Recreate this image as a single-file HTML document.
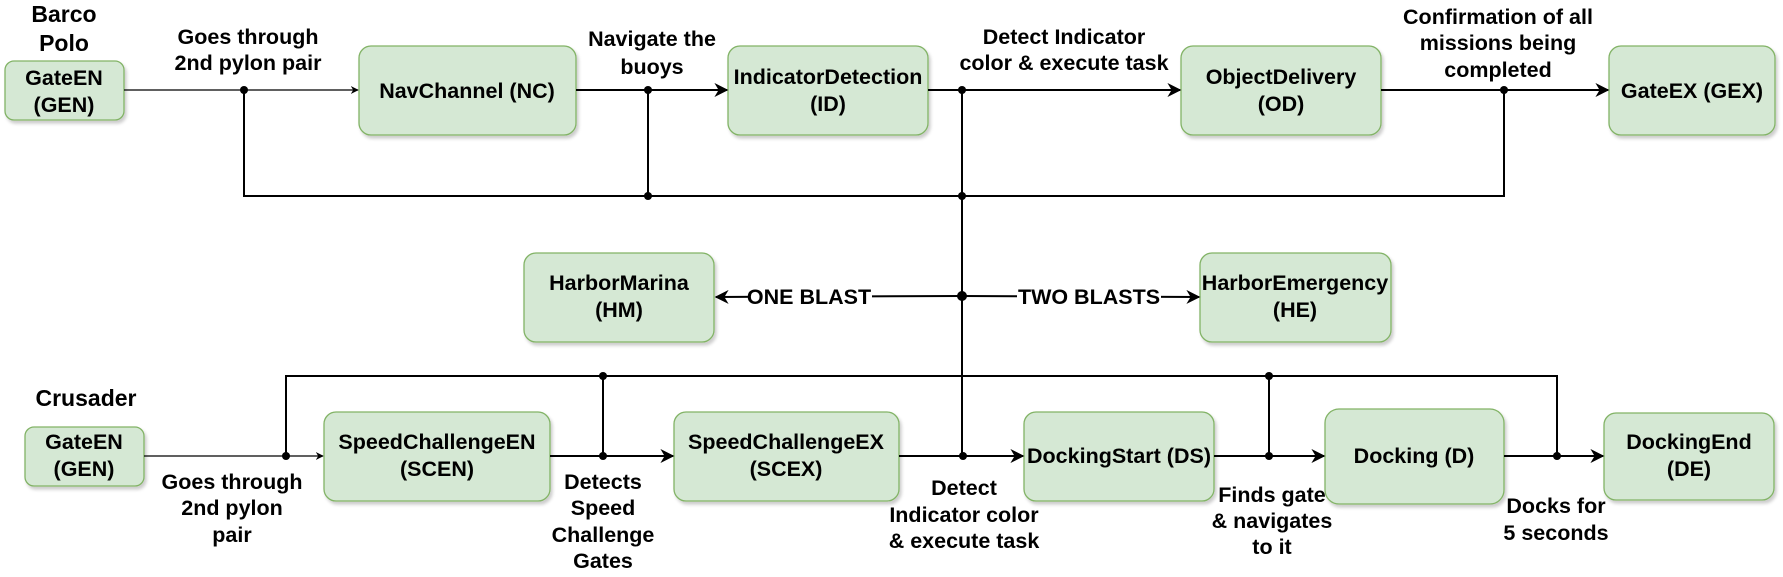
<!DOCTYPE html>
<html><head><meta charset="utf-8"><style>
html,body{margin:0;padding:0;background:#fff;}
svg{display:block;}
text{font-family:"Liberation Sans",Arial,sans-serif;font-weight:bold;font-size:21.5px;fill:#000;text-anchor:middle;dominant-baseline:central;}
.big{font-size:23px;}
.b{fill:#d5e8d4;stroke:#82b366;stroke-width:1.3;filter:url(#sh);}
.l{stroke:#000;stroke-width:2;fill:none;}
.t{stroke:#000;stroke-width:1.3;fill:none;}
</style></head><body>
<svg width="1783" height="577" viewBox="0 0 1783 577" xmlns="http://www.w3.org/2000/svg">
<defs>
<filter id="sh" x="-10%" y="-10%" width="130%" height="130%"><feDropShadow dx="2" dy="3" stdDeviation="1.5" flood-color="#000" flood-opacity="0.2"/></filter>
<marker id="a" viewBox="0 0 10 10" refX="9" refY="5" markerWidth="8" markerHeight="8" markerUnits="userSpaceOnUse" orient="auto"><path d="M0,0 L10,5 L0,10 L3,5 Z" fill="#000"/></marker>
<marker id="a2" viewBox="0 0 10 10" refX="9" refY="5" markerWidth="14" markerHeight="14" markerUnits="userSpaceOnUse" orient="auto"><path d="M0,0 L10,5 L0,10 L3,5 Z" fill="#000"/></marker>
</defs>

<rect class="b" x="5" y="61" width="119" height="59" rx="9"/>
<rect class="b" x="359" y="46" width="217" height="89" rx="12"/>
<rect class="b" x="728" y="46" width="200" height="89" rx="12"/>
<rect class="b" x="1181" y="46" width="200" height="89" rx="12"/>
<rect class="b" x="1609" y="46" width="166" height="89" rx="12"/>
<rect class="b" x="524" y="253" width="190" height="89" rx="12"/>
<rect class="b" x="1200" y="253" width="191" height="89" rx="12"/>
<rect class="b" x="25" y="427" width="119" height="59" rx="9"/>
<rect class="b" x="324" y="412" width="226" height="89" rx="12"/>
<rect class="b" x="674" y="412" width="225" height="89" rx="12"/>
<rect class="b" x="1024" y="412" width="190" height="89" rx="12"/>
<rect class="b" x="1325" y="409" width="179" height="95" rx="14"/>
<rect class="b" x="1604" y="413" width="170" height="87" rx="12"/>

<line class="t" x1="124" y1="90" x2="358" y2="90" marker-end="url(#a)"/>
<line class="l" x1="576" y1="90" x2="727" y2="90" marker-end="url(#a2)"/>
<line class="l" x1="928" y1="90" x2="1180" y2="90" marker-end="url(#a2)"/>
<line class="l" x1="1381" y1="90" x2="1608" y2="90" marker-end="url(#a2)"/>
<polyline class="l" points="244,90 244,196 1504,196 1504,90"/>
<line class="l" x1="648" y1="90" x2="648" y2="196"/>
<line class="l" x1="962" y1="90" x2="962" y2="456"/>
<line class="l" x1="962" y1="296" x2="716" y2="297" marker-end="url(#a2)"/>
<line class="l" x1="962" y1="296" x2="1199" y2="297" marker-end="url(#a2)"/>
<rect x="748" y="284" width="124" height="26" fill="#fff"/>
<rect x="1017" y="284" width="144" height="26" fill="#fff"/>
<text x="809" y="297">ONE BLAST</text>
<text x="1089" y="297">TWO BLASTS</text>

<line class="t" x1="144" y1="456" x2="323" y2="456" marker-end="url(#a)"/>
<line class="l" x1="550" y1="456" x2="673" y2="456" marker-end="url(#a2)"/>
<line class="l" x1="899" y1="456" x2="1023" y2="456" marker-end="url(#a2)"/>
<line class="l" x1="1214" y1="456" x2="1324" y2="456" marker-end="url(#a2)"/>
<line class="l" x1="1504" y1="456" x2="1603" y2="456" marker-end="url(#a2)"/>
<polyline class="l" points="286,456 286,376 1557,376 1557,456"/>
<line class="l" x1="603" y1="376" x2="603" y2="456"/>
<line class="l" x1="1269" y1="376" x2="1269" y2="456"/>

<g fill="#000">
<circle cx="244" cy="90" r="4"/><circle cx="648" cy="90" r="4"/><circle cx="962" cy="90" r="4"/><circle cx="1504" cy="90" r="4"/>
<circle cx="648" cy="196" r="4"/><circle cx="962" cy="196" r="4"/><circle cx="962" cy="296" r="5"/>
<circle cx="603" cy="376" r="4"/><circle cx="1269" cy="376" r="4"/>
<circle cx="286" cy="456" r="4"/><circle cx="603" cy="456" r="4"/><circle cx="963" cy="456" r="4"/><circle cx="1269" cy="456" r="4"/><circle cx="1557" cy="456" r="4"/>
</g>

<text x="64" y="78">GateEN</text><text x="64" y="105">(GEN)</text>
<text x="467" y="91">NavChannel (NC)</text>
<text x="828" y="77">IndicatorDetection</text><text x="828" y="104">(ID)</text>
<text x="1281" y="77">ObjectDelivery</text><text x="1281" y="104">(OD)</text>
<text x="1692" y="91">GateEX (GEX)</text>
<text x="619" y="283">HarborMarina</text><text x="619" y="310">(HM)</text>
<text x="1295" y="283">HarborEmergency</text><text x="1295" y="310">(HE)</text>
<text x="84" y="442">GateEN</text><text x="84" y="469">(GEN)</text>
<text x="437" y="442">SpeedChallengeEN</text><text x="437" y="469">(SCEN)</text>
<text x="786" y="442">SpeedChallengeEX</text><text x="786" y="469">(SCEX)</text>
<text x="1119" y="456">DockingStart (DS)</text>
<text x="1414" y="456">Docking (D)</text>
<text x="1689" y="442">DockingEnd</text><text x="1689" y="469">(DE)</text>

<text class="big" x="64" y="14">Barco</text><text class="big" x="64" y="43">Polo</text>
<text class="big" x="86" y="398">Crusader</text>
<text x="248" y="37">Goes through</text><text x="248" y="63">2nd pylon pair</text>
<text x="652" y="39">Navigate the</text><text x="652" y="67">buoys</text>
<text x="1064" y="37">Detect Indicator</text><text x="1064" y="63">color &amp; execute task</text>
<text x="1498" y="17">Confirmation of all</text><text x="1498" y="43">missions being</text><text x="1498" y="70">completed</text>
<text x="232" y="482">Goes through</text><text x="232" y="508">2nd pylon</text><text x="232" y="535">pair</text>
<text x="603" y="482">Detects</text><text x="603" y="508">Speed</text><text x="603" y="535">Challenge</text><text x="603" y="561">Gates</text>
<text x="964" y="488">Detect</text><text x="964" y="515">Indicator color</text><text x="964" y="541">&amp; execute task</text>
<text x="1272" y="495">Finds gate</text><text x="1272" y="521">&amp; navigates</text><text x="1272" y="547">to it</text>
<text x="1556" y="506">Docks for</text><text x="1556" y="533">5 seconds</text>
</svg>
</body></html>
